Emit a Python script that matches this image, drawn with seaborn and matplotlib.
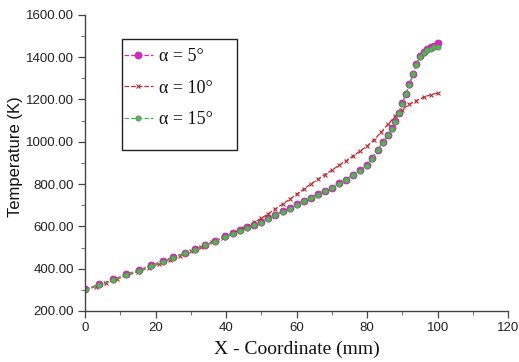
import matplotlib
matplotlib.use("Agg")
import matplotlib.pyplot as plt
import seaborn as sns
import numpy as np
import pandas as pd
from matplotlib.ticker import MultipleLocator, FormatStrFormatter
from matplotlib.patches import Rectangle

# ---- data ----
x_a15 = [0, 4, 8, 11.7, 15.3, 18.8, 22, 25, 28.3, 31.3, 34, 36.8, 39.6, 42, 44, 46, 48, 50,
         52, 54, 56, 58, 60, 62, 64, 66, 68, 70, 72, 74, 76, 78, 80, 81.5, 83, 84.5, 86, 87,
         88, 89, 90, 91, 92, 93, 94, 95, 96, 97, 98, 99, 100]
t_a15 = [300, 323, 346, 370, 391, 413, 433, 450, 472, 490, 510, 528, 550, 566, 578, 592, 605, 618,
         636, 652, 668, 684, 701, 718, 733, 750, 765, 780, 800, 818, 841, 863, 887, 920, 960, 995, 1030, 1060,
         1095, 1135, 1180, 1225, 1270, 1318, 1365, 1400, 1420, 1432, 1440, 1446, 1450]

x_a5 = [0, 4, 8, 11.7, 15.3, 18.8, 22, 25, 28.3, 31.3, 34, 36.8, 39.6, 42, 44, 46, 48, 50,
        52, 54, 56, 58, 60, 62, 64, 66, 68, 70, 72, 74, 76, 78, 80, 81.5, 83, 84.5, 86, 87,
        88, 89, 90, 91, 92, 93, 94, 95, 96, 97, 98, 99, 100, 100]
t_a5 = [302, 326, 349, 373, 394, 416, 436, 453, 475, 493, 513, 531, 553, 569, 581, 595, 608, 621,
        639, 655, 671, 687, 704, 721, 736, 753, 768, 783, 803, 821, 844, 866, 890, 923, 963, 998, 1033, 1063,
        1098, 1138, 1183, 1228, 1273, 1321, 1368, 1404, 1425, 1438, 1447, 1453, 1458, 1475]

x_a10 = [0, 3, 6, 9, 12, 15, 18, 21, 24, 27, 30, 33, 36, 39, 42, 45, 48, 50, 52, 54, 56, 58, 60,
         62, 64, 66, 68, 70, 72, 74, 76, 78, 80, 82, 84, 86, 88, 90, 92, 94, 96, 98, 100]
t_a10 = [300, 315, 332, 350, 368, 386, 404, 424, 443, 462, 482, 502, 524, 545, 568, 593, 620, 638,
         660, 683, 705, 728, 752, 776, 800, 822, 845, 866, 888, 910, 933, 956, 980, 1010, 1045, 1085,
         1120, 1152, 1177, 1195, 1210, 1222, 1230]

labels = ["α = 5°", "α = 10°", "α = 15°"]
colors = ["#e020c8", "#b83038", "#44c044"]

sns.set_style("white")
fig = plt.figure(figsize=(5.19, 3.62), dpi=100)
ax = fig.add_axes([0.164, 0.141, 0.815, 0.818])

sns.lineplot(x=x_a5, y=t_a5, ax=ax, color=colors[0], marker="o", markersize=5,
             markeredgecolor="#a04090", markeredgewidth=0.6, linestyle="--", linewidth=0.9,
             sort=False, label=labels[0])
sns.lineplot(x=x_a10, y=t_a10, ax=ax, color=colors[1], marker="x", markersize=3.5,
             markeredgecolor=colors[1], markeredgewidth=0.8, linestyle="--", linewidth=0.9,
             sort=False, label=labels[1])
sns.lineplot(x=x_a15, y=t_a15, ax=ax, color=colors[2], marker="o", markersize=3.8,
             markeredgecolor="#8a6a8a", markeredgewidth=0.5, linestyle="--", linewidth=0.9,
             sort=False, label=labels[2])

ax.set_xlim(0, 120)
ax.set_ylim(200, 1600)
ax.xaxis.set_major_locator(MultipleLocator(20))
ax.xaxis.set_minor_locator(MultipleLocator(10))
ax.yaxis.set_major_locator(MultipleLocator(200))
ax.yaxis.set_minor_locator(MultipleLocator(100))
ax.yaxis.set_major_formatter(FormatStrFormatter("%.2f"))
ax.xaxis.set_major_formatter(FormatStrFormatter("%d"))

for s in ["top", "right"]:
    ax.spines[s].set_visible(False)
for s in ["left", "bottom"]:
    ax.spines[s].set_color("#444444")
    ax.spines[s].set_linewidth(1.0)

tickfont = ["Liberation Sans", "DejaVu Sans"]
ax.tick_params(axis="both", which="major", direction="out", length=5, width=0.9,
               color="#444444", labelsize=9.5, labelcolor="#222222", bottom=True, left=True, pad=3)
ax.tick_params(axis="both", which="minor", direction="out", length=3, width=0.8,
               color="#777777", bottom=True, left=True)
for lab in ax.get_xticklabels() + ax.get_yticklabels():
    lab.set_family(tickfont)

ax.set_ylabel("Temperature (K)", fontsize=12, family=["Liberation Sans", "DejaVu Sans"],
              color="#111111")
ax.yaxis.set_label_coords(-0.147, 0.52)
ax.set_xlabel("X - Coordinate (mm)", fontsize=14, family=["Liberation Serif", "DejaVu Serif"],
              color="#111111", labelpad=5)

leg = ax.legend(loc="upper left", bbox_to_anchor=(0.092, 0.887), frameon=False,
                handlelength=1.6, handletextpad=0.35, labelspacing=0.8, borderpad=0,
                borderaxespad=0,
                prop={"family": ["Liberation Serif", "DejaVu Serif"], "size": 13})
for t in leg.get_texts():
    t.set_color("#111111")

# legend frame
ax.add_patch(Rectangle((0.0873, 0.544), 0.358 - 0.0873, 0.919 - 0.544, transform=ax.transAxes,
                       fill=False, edgecolor="#222222", linewidth=1.0, zorder=5))

fig.savefig("out.png", dpi=100)
